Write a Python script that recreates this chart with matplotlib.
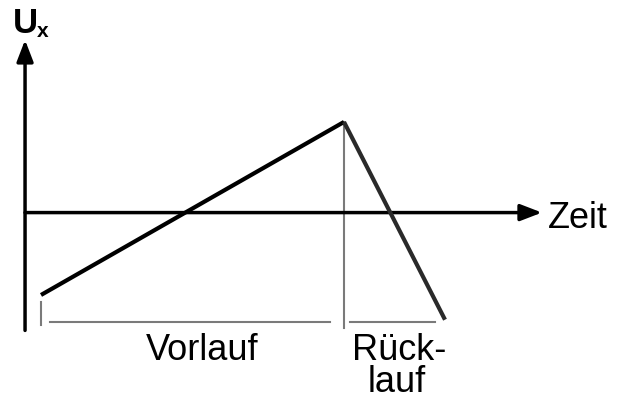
import matplotlib
matplotlib.use("Agg")
import matplotlib.pyplot as plt

# Sawtooth (time-base) voltage: Vorlauf (sweep) then Rücklauf (flyback)
t_vals = [0.0, 3.0, 4.0]
u_vals = [-1.0, 1.1, -1.3]
phase_labels = ["Vorlauf", "Rück-\nlauf"]
x_label = "Zeit"
y_label = "U"
y_sub = "x"

plt.rcParams['font.family'] = ['Liberation Sans', 'DejaVu Sans']

fig = plt.figure(figsize=(6.17, 3.96), dpi=100)
ax = fig.add_axes([0, 0, 1, 1])
ax.set_xlim(-0.406, 5.703)
ax.set_ylim(-2.226, 2.580)
ax.axis('off')

t0, tp, te = t_vals
u0, up, ue = u_vals

# axes with arrows
head = '-|>,head_length=0.65,head_width=0.25'
ax.annotate('', xy=(-0.158, 2.095), xytext=(-0.158, -1.43),
            arrowprops=dict(arrowstyle=head, lw=2.5, color='black',
                            mutation_scale=20, shrinkA=0, shrinkB=0))
ax.annotate('', xy=(4.96, 0), xytext=(-0.158, 0),
            arrowprops=dict(arrowstyle=head, lw=2.5, color='black',
                            mutation_scale=20, shrinkA=0, shrinkB=0))

# gray guide lines
gray = '#7a7a7a'
ax.plot([tp, tp], [up, -1.40], color=gray, lw=1.5, zorder=1)
ax.plot([t0, t0], [-1.09, -1.36], color=gray, lw=1.5)
ax.plot([t0 + 0.09, tp - 0.14], [-1.33, -1.33], color=gray, lw=1.5)
ax.plot([tp + 0.06, te - 0.10], [-1.33, -1.33], color=gray, lw=1.5)

# sawtooth
ax.plot(t_vals[:2], u_vals[:2], color='black', lw=3.0, solid_capstyle='butt', zorder=3)
ax.plot(t_vals[1:], u_vals[1:], color='#2a2a2a', lw=3.0, solid_capstyle='butt', zorder=3)

# labels
ax.text(-0.277, 2.18, y_label, fontsize=25, fontweight='bold', ha='left', va='baseline')
ax.text(-0.04, 2.13, y_sub, fontsize=15, fontweight='bold', ha='left', va='baseline')
ax.text(5.02, -0.187, x_label, fontsize=26, ha='left', va='baseline')
ax.text((t0 + tp) / 2 + 0.1, -1.79, phase_labels[0], fontsize=26, ha='center', va='baseline')
ax.text((tp + te) / 2 + 0.05, -1.79, phase_labels[1].split('\n')[0], fontsize=26,
        ha='center', va='baseline')
ax.text((tp + te) / 2 + 0.02, -2.18, phase_labels[1].split('\n')[1], fontsize=26,
        ha='center', va='baseline')

fig.savefig('out.png', dpi=100)
